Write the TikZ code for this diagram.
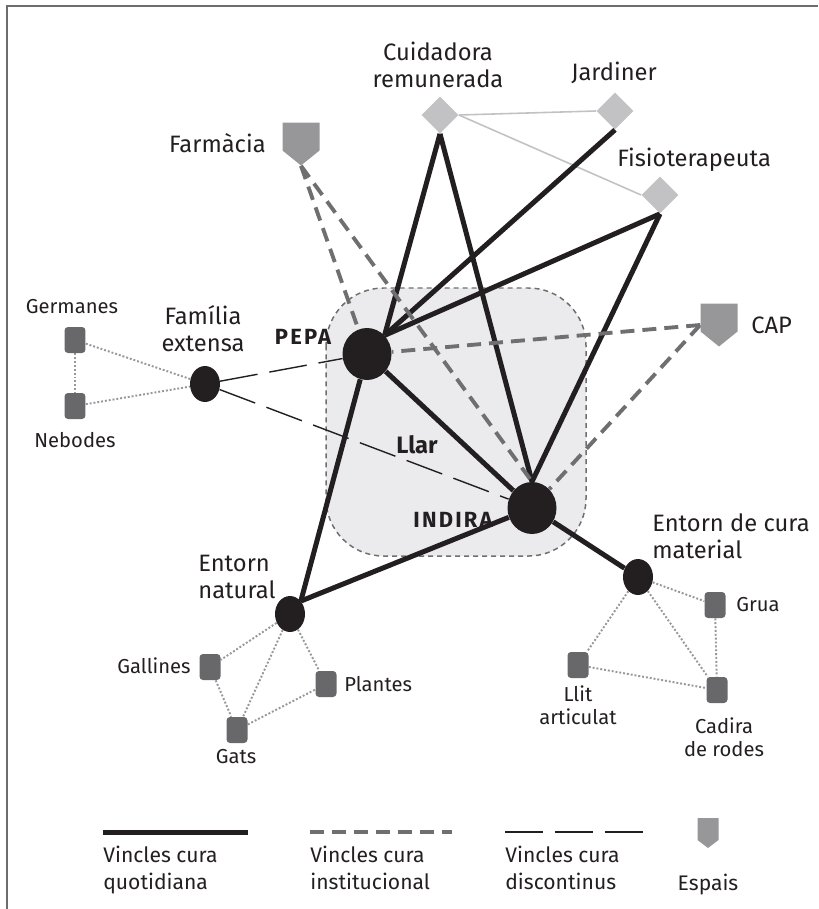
\documentclass[tikz,border=0pt]{standalone}
\usepackage{fontspec}
\setmainfont{Fira Sans}
\newfontfamily\namefont[LetterSpace=10]{Fira Sans Bold}
\usetikzlibrary{shapes.geometric, backgrounds, positioning}
\definecolor{inkblack}{HTML}{231F20}
\definecolor{linkgray}{HTML}{6F6F72}
\definecolor{dotgray}{HTML}{98989B}
\definecolor{diamgray}{HTML}{C2C2C4}
\definecolor{boxgray}{HTML}{68686B}
\definecolor{shieldgray}{HTML}{97979A}
\definecolor{llargray}{HTML}{EBEBED}
\definecolor{framegray}{HTML}{6D6D6F}
\pgfdeclarelayer{edges}
\pgfsetlayers{background,edges,main}

\begin{document}
\begin{tikzpicture}[x=0.02cm, y=-0.02cm,
    txt/.style={font=\fontsize{13.5}{15.4}\selectfont, text=inkblack, align=center, inner sep=0},
    small/.style={font=\fontsize{11.5}{13}\selectfont, text=inkblack, align=center, inner sep=0},
    legtxt/.style={font=\fontsize{12}{15.4}\selectfont, text=inkblack, align=left, inner sep=0, anchor=north west},
    namelab/.style={font=\namefont\fontsize{12.5}{14}\selectfont, text=inkblack, inner sep=0},
    person/.style={ellipse, fill=inkblack, inner sep=0, minimum width=0.98cm, minimum height=1.04cm},
    group/.style={ellipse, fill=inkblack, inner sep=0, minimum width=0.6cm, minimum height=0.72cm},
    carer/.style={diamond, fill=diamgray, inner sep=0, minimum width=0.74cm, minimum height=0.74cm},
    thing/.style={rectangle, rounded corners=2pt, fill=boxgray, inner sep=0, minimum width=0.42cm, minimum height=0.52cm},
    shield/.style n args={3}{rectangle, inner sep=0, minimum width=#1, minimum height=#2,
      path picture={\fill[shieldgray] (path picture bounding box.north west)
        -- (path picture bounding box.north east)
        -- ([yshift=#3]path picture bounding box.south east)
        -- (path picture bounding box.south)
        -- ([yshift=#3]path picture bounding box.south west) -- cycle;}},
    daily/.style={draw=inkblack, line width=2.85pt},
    inst/.style={draw=linkgray, line width=2.2pt, dash pattern=on 0.28cm off 0.16cm},
    broken/.style={draw=inkblack, line width=0.8pt, dash pattern=on 0.76cm off 0.24cm},
    light/.style={draw=diamgray, line width=0.9pt},
    dots/.style={draw=dotgray, line width=1.1pt, dash pattern=on 1.1pt off 1.1pt}]
  \useasboundingbox (0,0) rectangle (818,909);

  % frame
  \draw[framegray, line width=1.4pt] (7,909) -- (7,6) -- (818,6);

  % household
  \begin{pgfonlayer}{background}
    \draw[fill=llargray, draw=linkgray, line width=0.85pt,
      dash pattern=on 0.1cm off 0.08cm, rounded corners=1.15cm] (326,288) rectangle (586,556);
  \end{pgfonlayer}
  \node[font=\bfseries\fontsize{13.5}{15}\selectfont, text=inkblack, inner sep=0] (tllar) at (417,445) {Llar};

  % people and groups
  \node[person] (pepa) at (367,354) {};
  \node[person] (indira) at (532,508) {};
  \node[group] (fam) at (205,384) {};
  \node[group] (natural) at (290,614) {};
  \node[group] (material) at (638,577) {};

  % carers
  \node[carer] (cuid) at (440,115) {};
  \node[carer] (jard) at (615,111) {};
  \node[carer] (fisio) at (660,195) {};

  % spaces
  \node[shield={0.74cm}{0.86cm}{0.3cm}] (farm) at (301,144) {};
  \node[shield={0.74cm}{0.86cm}{0.3cm}] (cap) at (719,325) {};

  % things
  \node[thing] (germ) at (75,340) {};
  \node[thing] (neb) at (75,406) {};
  \node[thing] (gall) at (210,667) {};
  \node[thing] (plan) at (326,684) {};
  \node[thing] (gats) at (237,730) {};
  \node[thing] (grua) at (715,605) {};
  \node[thing] (llit) at (578,665) {};
  \node[thing] (cadira) at (717,690) {};

  % links
  \begin{pgfonlayer}{edges}
    \draw[light] (cuid.east) -- (jard.west);
    \draw[light] (cuid.east) -- (fisio.west);
    \draw[daily] (cuid.south) -- (pepa.north east);
    \draw[daily] (cuid.south) -- (indira.north);
    \draw[daily] (jard.south) -- (pepa.north east);
    \draw[daily] (fisio.south) -- (pepa.north east);
    \draw[daily] (fisio.south) -- (indira.north);
    \draw[daily] (pepa) -- (indira);
    \draw[daily] (pepa) -- (natural.north east);
    \draw[daily] (indira) -- (natural.north east);
    \draw[daily] (indira) -- (material);
    \draw[inst] (farm.south) -- (pepa);
    \draw[inst] (farm.south) -- (indira.north);
    \draw[inst] (cap.west) -- (pepa);
    \draw[inst] (cap.west) -- (indira);
    \draw[broken] (fam) -- (pepa);
    \draw[broken] (fam) -- (indira);
    \draw[dots] (germ) -- (neb);
    \draw[dots] (germ) -- (fam);
    \draw[dots] (neb) -- (fam);
    \draw[dots] (natural) -- (gall);
    \draw[dots] (natural) -- (gats);
    \draw[dots] (natural) -- (plan);
    \draw[dots] (gall) -- (gats);
    \draw[dots] (gats) -- (plan);
    \draw[dots] (material) -- (grua);
    \draw[dots] (material) -- (llit);
    \draw[dots] (material) -- (cadira);
    \draw[dots] (grua) -- (cadira);
    \draw[dots] (llit) -- (cadira);
  \end{pgfonlayer}

  % labels
  \node[namelab] (tpepa) at (303,337) {PEPA};
  \node[namelab] (tindira) at (453,520) {INDIRA};
  \node[txt] (tcuid) at (438,65) {Cuidadora\\remunerada};
  \node[txt] (tjard) at (614,73) {Jardiner};
  \node[txt, anchor=west] (tfisio) at (617,160) {Fisioterapeuta};
  \node[txt, anchor=east] (tfarm) at (266,143) {Farmàcia};
  \node[txt, anchor=west] (tcap) at (751,325) {CAP};
  \node[txt] (tfam) at (203,329) {Família\\extensa};
  \node[txt, anchor=west, align=left] (tnat) at (198,577) {Entorn\\natural};
  \node[txt, anchor=west, align=left] (tmat) at (652,536) {Entorn de cura\\material};
  \node[small] (tgerm) at (72,307) {Germanes};
  \node[small] (tneb) at (75,440) {Nebodes};
  \node[small, anchor=east] (tgall) at (191,666) {Gallines};
  \node[small, anchor=west] (tplan) at (344,684) {Plantes};
  \node[small] (tgats) at (236,757) {Gats};
  \node[small, anchor=west] (tgrua) at (736,605) {Grua};
  \node[small] (tllit) at (578,705) {Llit\\articulat};
  \node[small] (tcad) at (724,737) {Cadira\\de rodes};

  % legend
  \draw[daily] (103,832) -- (248,832);
  \draw[inst] (310,832) -- (452,832);
  \draw[broken] (505,832) -- (643,832);
  \node[shield={0.42cm}{0.6cm}{0.16cm}] (legshield) at (708,833) {};
  \node[legtxt] (leg1) at (103,846) {Vincles cura\\quotidiana};
  \node[legtxt] (leg2) at (310,846) {Vincles cura\\institucional};
  \node[legtxt] (leg3) at (505,846) {Vincles cura\\discontinus};
  \node[legtxt, anchor=north] (leg4) at (708,874) {Espais};
\end{tikzpicture}
\end{document}
